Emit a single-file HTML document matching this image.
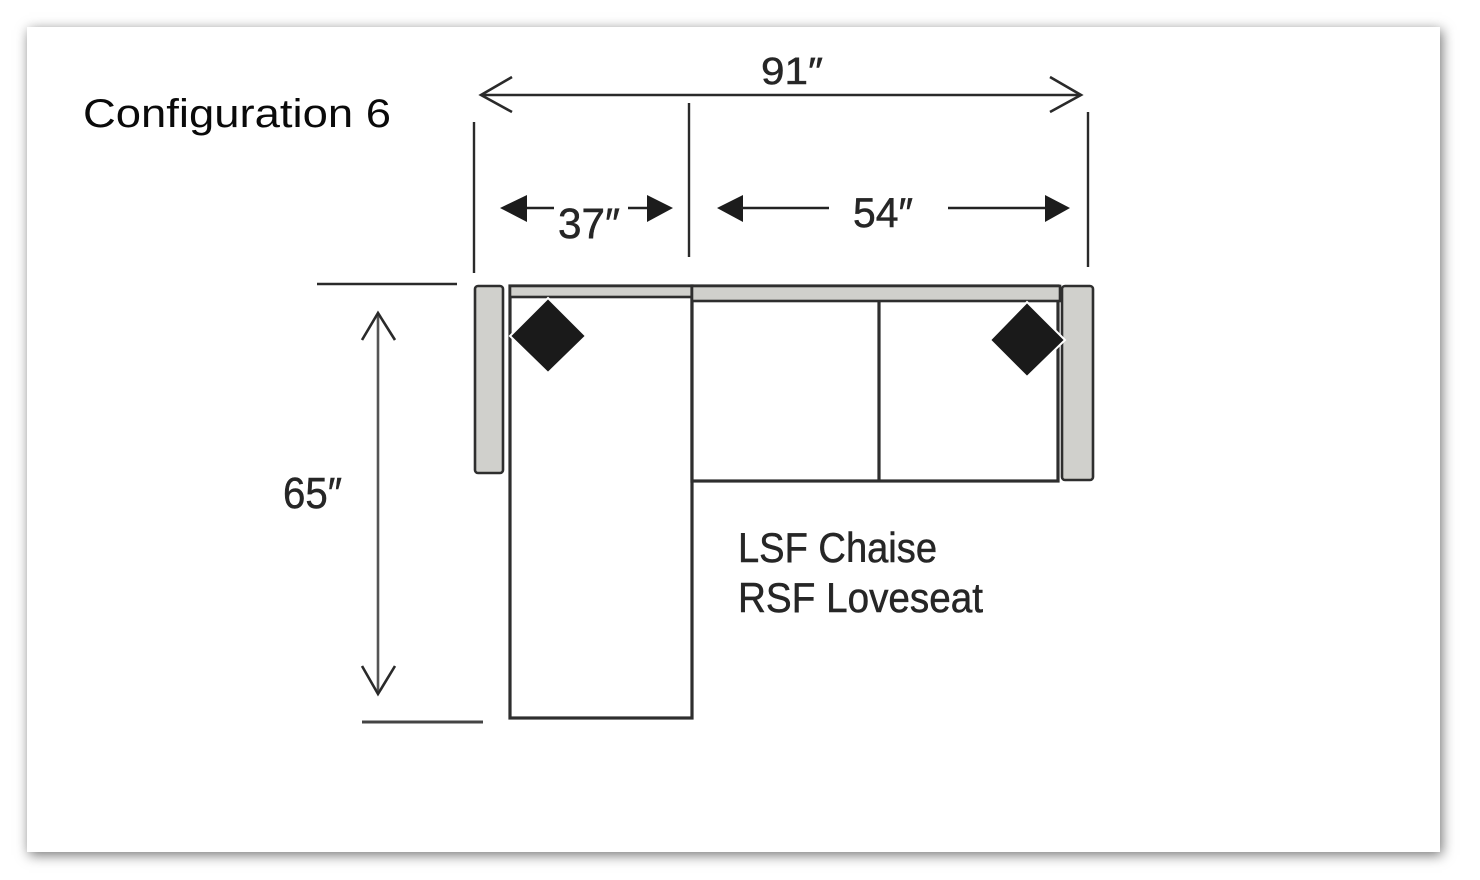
<!DOCTYPE html>
<html>
<head>
<meta charset="utf-8">
<style>
  html, body { margin:0; padding:0; width:1480px; height:880px; background:#ffffff; overflow:hidden; }
  .card { position:absolute; left:27px; top:27px; width:1413px; height:825px; background:#ffffff;
          box-shadow: 2px 3px 12px rgba(0,0,0,0.55); }
  svg { position:absolute; left:0; top:0; }
  .dim { font-family: "Liberation Sans", "DejaVu Sans", sans-serif; fill:#262626; stroke:#262626; stroke-width:0.5; }
</style>
</head>
<body>
<div class="card"></div>
<svg width="1480" height="880" viewBox="0 0 1480 880" xmlns="http://www.w3.org/2000/svg">
  <!-- Title -->
  <text x="83" y="127" font-family="Liberation Sans, DejaVu Sans, sans-serif" font-size="40" fill="#0a0a0a" textLength="308" lengthAdjust="spacingAndGlyphs">Configuration 6</text>

  <!-- 91" dimension -->
  <line x1="481" y1="95" x2="1081" y2="95" stroke="#2a2a2a" stroke-width="2.6"/>
  <polyline points="512,77 481,95 512,112" fill="none" stroke="#2a2a2a" stroke-width="2.6" stroke-linejoin="miter"/>
  <polyline points="1050,77 1081,95 1050,112" fill="none" stroke="#2a2a2a" stroke-width="2.6" stroke-linejoin="miter"/>
  <text class="dim" x="761" y="84" font-size="38" textLength="62" lengthAdjust="spacingAndGlyphs">91″</text>

  <!-- Extension lines -->
  <line x1="474" y1="122" x2="474" y2="273" stroke="#2a2a2a" stroke-width="2.4"/>
  <line x1="689" y1="103" x2="689" y2="257" stroke="#2a2a2a" stroke-width="2.4"/>
  <line x1="1088" y1="112" x2="1088" y2="267" stroke="#2a2a2a" stroke-width="2.4"/>

  <!-- 37" dimension -->
  <line x1="525" y1="208" x2="554" y2="208" stroke="#222" stroke-width="2.6"/>
  <polygon points="500,208 527,195 527,222" fill="#1c1c1c"/>
  <text class="dim" x="558" y="238" font-size="43" textLength="62" lengthAdjust="spacingAndGlyphs">37″</text>
  <line x1="628" y1="208" x2="650" y2="208" stroke="#222" stroke-width="2.6"/>
  <polygon points="673,208 647,195 647,222" fill="#1c1c1c"/>

  <!-- 54" dimension -->
  <polygon points="717,208 743,195 743,222" fill="#1c1c1c"/>
  <line x1="741" y1="208" x2="829" y2="208" stroke="#222" stroke-width="2.6"/>
  <text class="dim" x="853" y="227" font-size="42" textLength="60" lengthAdjust="spacingAndGlyphs">54″</text>
  <line x1="948" y1="208" x2="1047" y2="208" stroke="#222" stroke-width="2.6"/>
  <polygon points="1070,208 1045,195 1045,222" fill="#1c1c1c"/>

  <!-- 65" dimension -->
  <line x1="317" y1="284" x2="457" y2="284" stroke="#2a2a2a" stroke-width="2.4"/>
  <line x1="362" y1="722" x2="483" y2="722" stroke="#444" stroke-width="3"/>
  <line x1="378" y1="313" x2="378" y2="694" stroke="#555" stroke-width="2.6"/>
  <polyline points="362,340 378,313 395,340" fill="none" stroke="#2a2a2a" stroke-width="2.6"/>
  <polyline points="362,666 378,694 395,666" fill="none" stroke="#2a2a2a" stroke-width="2.6"/>
  <text class="dim" x="283" y="508" font-size="44" textLength="59" lengthAdjust="spacingAndGlyphs">65″</text>

  <!-- Sofa -->
  <rect x="475" y="286" width="28" height="187" rx="3" fill="#d0d0cc" stroke="#2e2e2e" stroke-width="2.6"/>
  <rect x="510" y="286" width="182" height="432" fill="#ffffff" stroke="#2e2e2e" stroke-width="3.2"/>
  <rect x="510" y="286" width="182" height="11" fill="#d0d0cc" stroke="#2e2e2e" stroke-width="2.6"/>
  <rect x="692" y="286" width="366" height="195" fill="#ffffff" stroke="#2e2e2e" stroke-width="3.2"/>
  <rect x="692" y="286" width="368" height="15" fill="#d0d0cc" stroke="#2e2e2e" stroke-width="2.6"/>
  <line x1="879" y1="301" x2="879" y2="481" stroke="#2e2e2e" stroke-width="3.2"/>
  <rect x="1062" y="286" width="31" height="194" rx="3" fill="#d0d0cc" stroke="#2e2e2e" stroke-width="2.6"/>

  <!-- Pillows -->
  <polygon points="548,298 586,336 548,373 510,336" fill="#1a1a1a" stroke="#ffffff" stroke-width="2"/>
  <polygon points="1027,302 1065,340 1027,377 990,340" fill="#1a1a1a" stroke="#ffffff" stroke-width="2"/>

  <!-- Label -->
  <text class="dim" x="738" y="562" font-size="42" textLength="199" lengthAdjust="spacingAndGlyphs">LSF Chaise</text>
  <text class="dim" x="738" y="612" font-size="42" textLength="245" lengthAdjust="spacingAndGlyphs">RSF Loveseat</text>
</svg>
</body>
</html>
